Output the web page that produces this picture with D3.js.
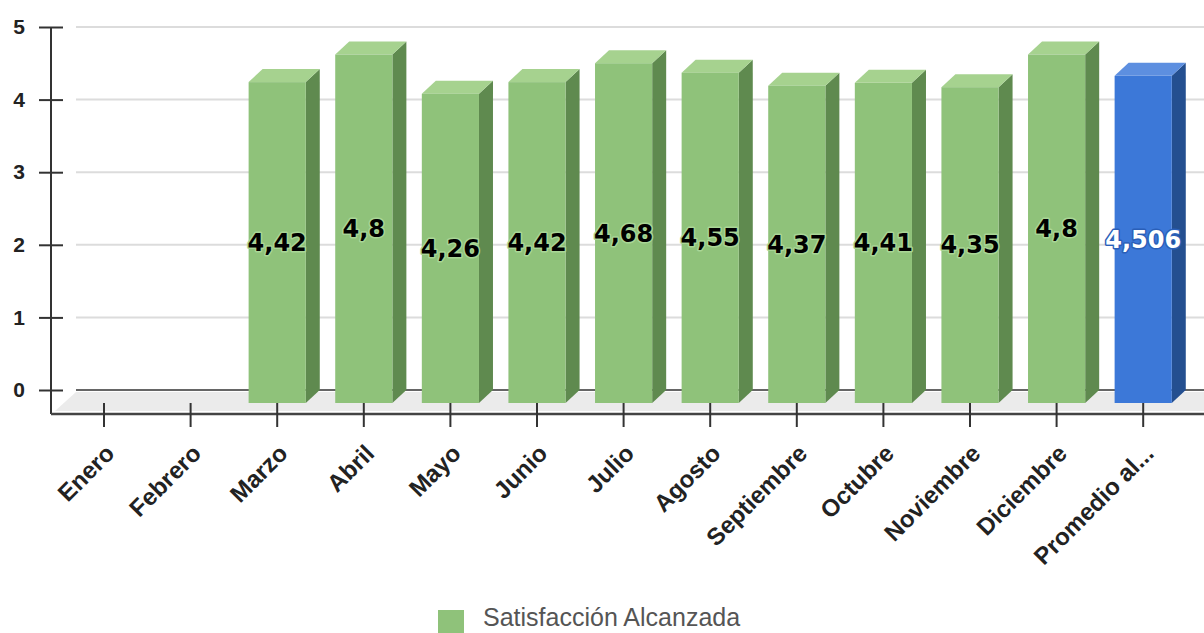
<!DOCTYPE html>
<html>
<head>
<meta charset="utf-8">
<script src="https://cdn.jsdelivr.net/npm/d3@7"></script>
<style>
  body { margin: 0; background: #fff; }
</style>
</head>
<body>
<div id="chart"></div>
<script>
// datos del gráfico
const categories = ["Enero", "Febrero", "Marzo", "Abril", "Mayo", "Junio", "Julio",
  "Agosto", "Septiembre", "Octubre", "Noviembre", "Diciembre", "Promedio al..."];
const values = [null, null, 4.42, 4.8, 4.26, 4.42, 4.68, 4.55, 4.37, 4.41, 4.35, 4.8, 4.506];
const yTicks = [0, 1, 2, 3, 4, 5];
const seriesName = "Satisfacción Alcanzada";

const width = 1204, height = 633;
const depthX = 14, depthY = 13; // profundidad 3D
const sans = "Liberation Sans, Arial, sans-serif";

const svg = d3.select("#chart").append("svg")
  .attr("width", width)
  .attr("height", height);

// escalas (plano frontal)
const x = d3.scaleBand()
  .domain(categories)
  .range([60.7, 1186.5])
  .paddingInner(0.34)
  .paddingOuter(0.17);
const y = d3.scaleLinear().domain([0, 5]).range([403, 40]);
// plano trasero (líneas de cuadrícula)
const yBack = d3.scaleLinear().domain([0, 5]).range([403 - depthY, 40 - depthY]);

const axisX = 51;
const axisBottomY = 414;

// 1) cuadrícula
svg.append("g").selectAll("line")
  .data(yTicks)
  .enter().append("line")
    .attr("x1", 76).attr("x2", width)
    .attr("y1", d => yBack(d)).attr("y2", d => yBack(d))
    .attr("stroke", d => d === 0 ? "#666" : "#dcdcdc")
    .attr("stroke-width", 2);

// 2) piso
svg.append("path")
  .attr("d", `M${axisX + 4},${axisBottomY - 3} L${axisX + 25},${yBack(0) + 2} L${width},${yBack(0) + 2} L${width},${axisBottomY - 3} Z`)
  .attr("fill", "#ebebeb");

// 3) barras 3D
const colors = {
  normal: { front: "#8fc27a", side: "#5f8a4f", top: "#a6d28f" },
  avg:    { front: "#3c78d8", side: "#244f90", top: "#5d8fe0" }
};
const bars = svg.append("g").selectAll("g")
  .data(categories.map((c, i) => ({ cat: c, value: values[i], avg: i === categories.length - 1 })).filter(d => d.value != null))
  .enter().append("g");

bars.append("path") // lado
  .attr("d", d => {
    const x1 = x(d.cat) + x.bandwidth(), t = y(d.value), b = y(0);
    return `M${x1},${b} L${x1},${t} L${x1 + depthX},${t - depthY} L${x1 + depthX},${b - depthY} Z`;
  })
  .attr("fill", d => d.avg ? colors.avg.side : colors.normal.side);

bars.append("path") // tapa
  .attr("d", d => {
    const x0 = x(d.cat), x1 = x0 + x.bandwidth(), t = y(d.value);
    return `M${x0},${t} L${x0 + depthX},${t - depthY} L${x1 + depthX},${t - depthY} L${x1},${t} Z`;
  })
  .attr("fill", d => d.avg ? colors.avg.top : colors.normal.top);

bars.append("rect") // frente
  .attr("x", d => x(d.cat))
  .attr("y", d => y(d.value))
  .attr("width", x.bandwidth())
  .attr("height", d => y(0) - y(d.value))
  .attr("fill", d => d.avg ? colors.avg.front : colors.normal.front);

// etiquetas de valores
bars.append("text")
  .attr("x", d => x(d.cat) + x.bandwidth() / 2)
  .attr("y", d => (y(d.value) + y(0)) / 2)
  .attr("dy", "0.35em")
  .attr("text-anchor", "middle")
  .attr("font-family", "DejaVu Sans, Verdana, sans-serif")
  .attr("font-weight", "bold")
  .attr("font-size", "24px")
  .attr("fill", d => d.avg ? "#fff" : "#000")
  .attr("stroke", d => d.avg ? "#2a5fb8" : "#a9d696")
  .attr("stroke-width", 3)
  .attr("stroke-linejoin", "round")
  .attr("paint-order", "stroke")
  .text(d => String(d.value).replace(".", ","));

// 4) eje Y
const gy = svg.append("g")
  .attr("transform", `translate(${axisX},0)`)
  .call(d3.axisLeft(yBack).tickValues(yTicks).tickFormat(d3.format("d")).tickSize(12).tickPadding(14));
gy.select(".domain").remove();
gy.selectAll(".tick line").attr("x1", -12).attr("x2", 12).attr("stroke", "#333").attr("stroke-width", 2);
gy.selectAll(".tick text")
  .attr("font-size", "21px")
  .attr("font-weight", "bold")
  .attr("fill", "#222")
  .attr("font-family", sans);
svg.append("line")
  .attr("x1", axisX).attr("x2", axisX)
  .attr("y1", yBack(5)).attr("y2", axisBottomY)
  .attr("stroke", "#333").attr("stroke-width", 2);

// 5) eje X
const gx = svg.append("g")
  .attr("transform", `translate(0,${axisBottomY})`)
  .call(d3.axisBottom(x).tickSize(13).tickPadding(0));
gx.select(".domain")
  .attr("d", `M${axisX},0 H${width}`)
  .attr("stroke", "#444").attr("stroke-width", 2.5);
gx.selectAll(".tick line").attr("y1", -11).attr("stroke", "#333").attr("stroke-width", 2);
gx.selectAll(".tick text")
  .attr("font-size", "24px")
  .attr("font-weight", "bold")
  .attr("fill", "#222")
  .attr("font-family", sans)
  .attr("text-anchor", "end")
  .attr("dy", "0.35em")
  .attr("y", 0)
  .attr("transform", "translate(6,35) rotate(-45)");

// 6) leyenda
const legend = svg.append("g").attr("transform", "translate(438,610)");
legend.append("rect")
  .attr("width", 26).attr("height", 23)
  .attr("fill", colors.normal.front);
legend.append("text")
  .attr("x", 45).attr("y", 16)
  .attr("font-size", "25px")
  .attr("font-family", sans)
  .attr("fill", "#555")
  .text(seriesName);
</script>
</body>
</html>
